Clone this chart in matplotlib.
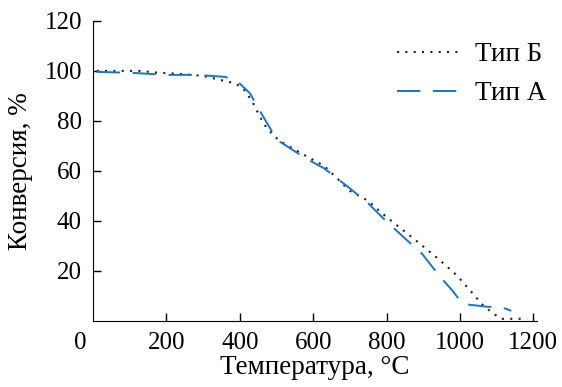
import numpy as np
import matplotlib
matplotlib.use("Agg")
import matplotlib.pyplot as plt

plt.rcParams['font.family'] = ['Liberation Serif', 'DejaVu Serif']

# Тип Б (dotted)
t_b = [10, 60, 128, 174, 237, 300, 346, 387, 409, 433, 461, 474, 501, 520, 580, 630,
       700, 750, 788, 830, 873, 941, 990, 1019, 1064, 1096, 1115, 1150, 1183]
c_b = [100, 100, 100, 99.3, 98.8, 98, 96.4, 95, 93, 88, 80, 77, 73, 71, 66, 62,
       52, 48, 43, 38, 33, 24.8, 18.4, 13.6, 6, 2.4, 0.8, 0.8, 0.8]

# Тип А (dashed)
t_a = [10, 109, 201, 283, 360, 395, 428, 447, 469, 491, 510, 580, 630, 700, 750,
       801, 850, 897, 946, 980, 1006, 1028, 1077, 1110, 1131, 1140]
c_a = [99.6, 99.2, 98.4, 98.4, 97.6, 95.6, 91, 86, 80.4, 75, 71.6, 65, 61, 53, 47,
       39.6, 33, 26.8, 17.6, 12, 7, 6.4, 5.6, 5.6, 4.5, 4]

x_ticks = [200, 400, 600, 800, 1000, 1200]
y_ticks = [20, 40, 60, 80, 100, 120]

fig = plt.figure(figsize=(5.62, 3.87), dpi=100)
ax = fig.add_axes([0.1655, 0.171, 0.79, 0.775])

ax.plot(t_b, c_b, color='#222222', linestyle=(0, (1, 3)), linewidth=1.5, label='Тип Б')
ax.plot(t_a, c_a, color='#1a75c4', linestyle=(0, (12, 6.5)), linewidth=1.4, label='Тип А')

ax.set_xlim(0, 1210)
ax.set_ylim(0, 120)
ax.set_xticks(x_ticks)
ax.set_yticks(y_ticks)
ax.spines['top'].set_visible(False)
ax.spines['right'].set_visible(False)
ax.tick_params(direction='in', length=6, width=1, labelsize=18, pad=8)
ax.set_xlabel('Температура, °C', fontsize=19.5, labelpad=1)
ax.set_ylabel('Конверсия, %', fontsize=19.5, labelpad=8)
fig.text(80 / 562, 1 - 343 / 387, '0', fontsize=18, ha='center', va='center')

ax.legend(loc='upper right', bbox_to_anchor=(1.075, 1.01), frameon=False, fontsize=19.5,
          handlelength=2.4, handletextpad=0.45, labelspacing=0.52)

fig.savefig('out.png', dpi=100)
